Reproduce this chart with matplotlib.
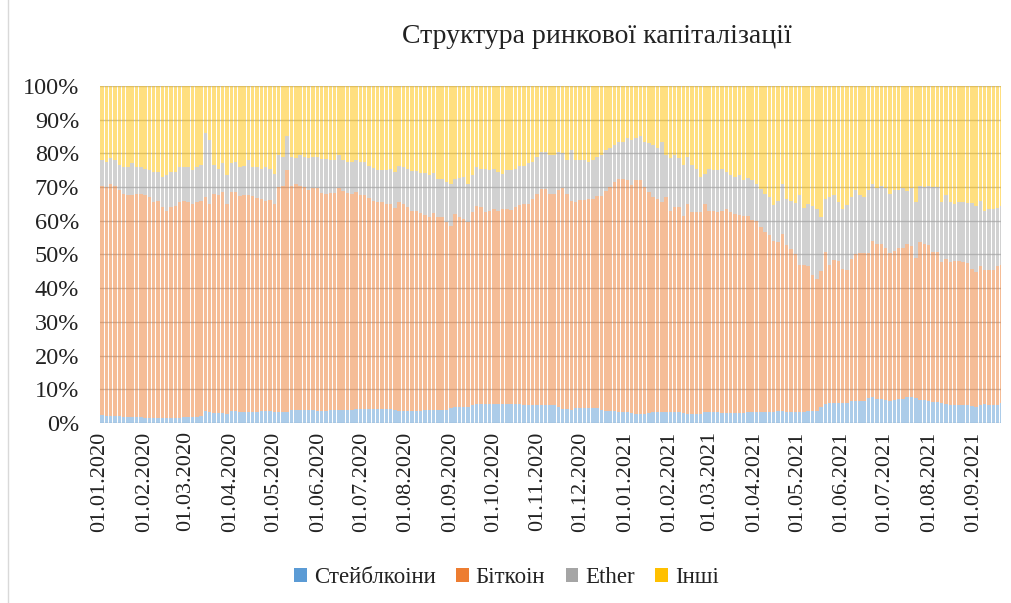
import numpy as np
import pandas as pd
import matplotlib
matplotlib.use("Agg")
import matplotlib.pyplot as plt
from matplotlib.patches import Patch
from matplotlib.lines import Line2D

plt.rcParams['font.family'] = ['Liberation Serif', 'DejaVu Serif']

# кожен стовпчик - 3 дні, починаючи з 01.01.2020 (частки у %)
dates = pd.date_range("2020-01-01", periods=210, freq="3D")

stable = [
    2.4, 2.2, 2.0, 2.0, 2.0, 1.7, 1.7, 1.7, 1.7, 1.7,
    1.5, 1.5, 1.5, 1.4, 1.4, 1.4, 1.4, 1.4, 1.4, 1.7,
    1.7, 1.7, 1.7, 2.2, 3.5, 3.4, 3.0, 2.9, 2.9, 2.8,
    3.5, 3.5, 3.2, 3.2, 3.2, 3.4, 3.4, 3.7, 3.7, 3.7,
    3.2, 3.2, 3.2, 3.2, 3.9, 3.9, 3.9, 3.9, 4.0, 4.0,
    3.7, 3.7, 3.7, 3.8, 3.9, 3.9, 3.9, 3.9, 3.9, 4.1,
    4.1, 4.1, 4.1, 4.2, 4.2, 4.2, 4.2, 4.2, 4.0, 3.7,
    3.7, 3.7, 3.7, 3.7, 3.7, 3.9, 3.9, 3.9, 3.9, 3.9,
    3.9, 4.5, 4.7, 4.7, 4.7, 4.7, 5.2, 5.5, 5.6, 5.6,
    5.6, 5.6, 5.6, 5.6, 5.6, 5.6, 5.6, 5.6, 5.2, 5.2,
    5.2, 5.2, 5.2, 5.2, 5.2, 5.2, 4.8, 4.2, 4.1, 3.9,
    4.4, 4.4, 4.4, 4.4, 4.4, 4.4, 3.8, 3.7, 3.7, 3.7,
    3.2, 3.2, 3.2, 3.0, 2.8, 2.7, 2.7, 3.0, 3.2, 3.2,
    3.2, 3.2, 3.2, 3.2, 3.2, 3.0, 2.7, 2.7, 2.7, 2.8,
    3.2, 3.2, 3.2, 3.2, 3.0, 2.9, 2.9, 2.9, 2.9, 2.9,
    3.2, 3.2, 3.2, 3.2, 3.2, 3.2, 3.3, 3.7, 3.7, 3.4,
    3.4, 3.4, 3.4, 3.2, 3.5, 3.7, 3.7, 4.8, 5.5, 5.8,
    6.0, 6.0, 5.8, 5.8, 6.4, 6.4, 6.4, 6.6, 7.5, 7.8,
    7.1, 7.0, 6.8, 6.6, 6.9, 7.1, 7.1, 7.8, 7.8, 7.3,
    6.8, 6.8, 6.5, 6.1, 6.1, 5.8, 5.5, 5.3, 5.2, 5.2,
    5.2, 5.2, 5.0, 4.7, 5.2, 5.5, 5.2, 5.2, 5.4, 5.8,
]

bitcoin = [
    67.9, 67.8, 68.8, 68.3, 67.0, 66.3, 65.8, 65.8, 66.3, 66.3,
    66.0, 65.5, 64.0, 64.6, 62.6, 61.6, 62.8, 63.1, 64.1, 64.3,
    63.8, 63.3, 63.8, 63.8, 63.5, 61.6, 64.8, 64.6, 65.7, 62.2,
    65.1, 65.0, 64.1, 64.4, 64.4, 63.9, 63.4, 62.9, 62.3, 62.5,
    61.8, 66.8, 67.1, 71.8, 66.4, 67.1, 66.4, 66.1, 65.2, 65.6,
    65.9, 64.5, 64.3, 64.5, 64.3, 65.9, 64.9, 64.3, 64.1, 64.4,
    63.5, 63.4, 62.6, 61.8, 61.3, 61.3, 60.8, 60.8, 59.8, 61.8,
    61.3, 60.3, 59.3, 59.3, 58.5, 57.7, 57.3, 58.3, 57.1, 57.1,
    55.8, 54.0, 57.3, 56.3, 55.8, 55.0, 57.4, 59.0, 58.4, 57.0,
    57.4, 57.9, 57.4, 57.9, 58.0, 57.7, 58.4, 59.0, 59.8, 59.8,
    61.3, 62.8, 64.3, 64.1, 62.8, 62.8, 64.2, 65.4, 63.9, 62.1,
    61.1, 61.9, 61.9, 62.2, 62.2, 62.9, 63.5, 65.1, 66.3, 67.8,
    69.3, 69.3, 68.8, 67.5, 69.2, 69.3, 67.3, 65.6, 63.8, 63.3,
    62.3, 63.8, 59.8, 60.8, 60.8, 58.5, 62.3, 59.9, 59.9, 59.7,
    61.8, 59.8, 59.6, 59.4, 60.0, 60.7, 59.7, 59.1, 58.7, 58.5,
    58.1, 57.1, 56.8, 54.8, 53.4, 52.5, 50.7, 50.1, 52.3, 49.3,
    48.1, 46.6, 43.4, 43.6, 43.0, 40.1, 39.1, 40.2, 45.2, 41.2,
    42.3, 42.0, 40.0, 39.7, 42.4, 43.6, 43.9, 43.7, 42.8, 46.2,
    46.1, 46.2, 45.0, 43.9, 44.0, 44.7, 44.8, 45.2, 44.6, 41.7,
    46.8, 46.4, 46.2, 44.6, 44.6, 42.0, 43.3, 42.5, 42.8, 43.0,
    42.6, 42.3, 40.8, 40.1, 41.3, 39.8, 40.3, 40.2, 41.1, 41.0,
]

ether = [
    7.7, 7.5, 7.7, 7.7, 7.5, 8.0, 8.5, 9.5, 8.0, 8.0,
    8.0, 8.0, 9.0, 8.5, 9.0, 10.5, 10.3, 10.0, 10.5, 10.0,
    10.5, 10.0, 10.5, 10.5, 19.0, 19.0, 8.7, 8.0, 8.4, 8.5,
    8.4, 9.0, 8.7, 8.6, 10.4, 8.7, 9.2, 8.9, 10.0, 9.3,
    9.0, 9.5, 8.7, 10.0, 8.7, 7.5, 9.2, 9.0, 9.3, 9.4,
    9.4, 10.1, 10.3, 9.7, 9.8, 9.7, 9.2, 9.3, 9.5, 9.5,
    9.9, 10.0, 9.5, 9.8, 9.7, 9.7, 10.2, 10.3, 10.7, 10.7,
    11.0, 11.3, 11.8, 11.8, 12.0, 12.6, 12.3, 12.1, 11.5, 11.5,
    11.8, 12.5, 10.5, 11.8, 12.5, 11.3, 10.9, 11.5, 11.5, 12.9,
    12.0, 12.0, 11.5, 10.5, 11.4, 11.7, 11.5, 11.6, 11.2, 12.0,
    11.0, 11.0, 11.0, 11.2, 11.5, 11.5, 11.5, 10.4, 10.0, 15.0,
    12.5, 11.7, 11.7, 10.9, 11.4, 11.7, 12.2, 12.2, 11.5, 11.0,
    11.0, 11.0, 12.5, 13.5, 12.5, 13.0, 13.5, 14.4, 15.5, 15.0,
    18.0, 12.5, 15.5, 15.5, 14.5, 15.0, 14.0, 13.9, 12.9, 10.5,
    9.0, 12.5, 12.2, 12.4, 12.5, 10.9, 10.9, 11.0, 11.9, 10.6,
    11.5, 11.9, 11.0, 11.5, 11.4, 11.3, 10.8, 12.2, 15.0, 13.8,
    14.5, 15.2, 20.8, 16.9, 18.5, 20.7, 20.8, 16.0, 15.8, 20.0,
    19.3, 17.5, 17.8, 19.1, 18.2, 19.0, 17.2, 16.7, 18.7, 17.0,
    16.4, 17.0, 17.8, 17.5, 18.1, 17.2, 17.7, 15.8, 17.2, 16.6,
    16.7, 16.8, 17.6, 19.3, 19.3, 17.8, 18.8, 17.8, 17.0, 17.4,
    17.8, 17.8, 19.4, 19.5, 19.5, 17.5, 18.0, 18.1, 17.3, 17.6,
]

others = [
    22, 22.5, 21.5, 22, 23.5, 24, 24, 23, 24, 24,
    24.5, 25, 25.5, 25.5, 27, 26.5, 25.5, 25.5, 24, 24,
    24, 25, 24, 23.5, 14, 16, 23.5, 24.5, 23, 26.5,
    23, 22.5, 24, 23.8, 22, 24, 24, 24.5, 24, 24.5,
    26, 20.5, 21, 15, 21, 21.5, 20.5, 21, 21.5, 21,
    21, 21.7, 21.7, 22, 22, 20.5, 22, 22.5, 22.5, 22,
    22.5, 22.5, 23.8, 24.2, 24.8, 24.8, 24.8, 24.7, 25.5, 23.8,
    24, 24.7, 25.2, 25.2, 25.8, 25.8, 26.5, 25.7, 27.5, 27.5,
    28.5, 29, 27.5, 27.2, 27, 29, 26.5, 24, 24.5, 24.5,
    25, 24.5, 25.5, 26, 25, 25, 24.5, 23.8, 23.8, 23,
    22.5, 21, 19.5, 19.5, 20.5, 20.5, 19.5, 20, 22, 19,
    22, 22, 22, 22.5, 22, 21, 20.5, 19, 18.5, 17.5,
    16.5, 16.5, 15.5, 16, 15.5, 15, 16.5, 17, 17.5, 18.5,
    16.5, 20.5, 21.5, 20.5, 21.5, 23.5, 21, 23.5, 24.5, 27,
    26, 24.5, 25, 25, 24.5, 25.5, 26.5, 27, 26.5, 28,
    27.2, 27.8, 29, 30.5, 32, 33, 35.2, 34, 29, 33.5,
    34, 34.8, 32.4, 36.3, 35, 35.5, 36.4, 39, 33.5, 33,
    32.4, 34.5, 36.4, 35.4, 33, 31, 32.5, 33, 31, 29,
    30.4, 29.8, 30.4, 32, 31, 31, 30.4, 31.2, 30.4, 34.4,
    29.7, 30, 29.7, 30, 30, 34.4, 32.4, 34.4, 35, 34.4,
    34.4, 34.7, 34.8, 35.7, 34, 37.2, 36.5, 36.5, 36.2, 35.6,
]

names = ["Стейблкоіни", "Біткоін", "Ether", "Інші"]
colors = ["#5B9BD5", "#ED7D31", "#A5A5A5", "#FFC000"]
series = [stable, bitcoin, ether, others]

fig = plt.figure(figsize=(10.11, 6.03), dpi=100)
ax = fig.add_axes([0.0989, 0.2985, 0.8915, 0.559])

bottom = np.zeros(len(dates))
for vals, col in zip(series, colors):
    vals = np.array(vals, dtype=float)
    ax.bar(dates + pd.Timedelta(hours=6), vals, bottom=bottom, width=2.4,
           align='edge', color=col, alpha=0.5, linewidth=0)
    bottom += vals

ax.set_ylim(0, 100)
ax.set_xlim(pd.Timestamp("2020-01-01"), pd.Timestamp("2021-09-20"))
ax.set_yticks(np.arange(0, 101, 10))
ax.set_yticklabels([f"{v}%" for v in range(0, 101, 10)])
months = pd.date_range("2020-01-01", "2021-09-01", freq="MS")
ax.set_xticks(months)
ax.set_xticklabels([m.strftime("%d.%m.%Y") for m in months], rotation=90)

ax.grid(axis='y', color='#BFBFBF', linewidth=1)
ax.set_axisbelow(True)
for s in ax.spines.values():
    s.set_visible(False)
ax.tick_params(axis='both', length=0, colors='#222222')
ax.tick_params(axis='y', pad=15, labelsize=17.5)
ax.tick_params(axis='x', pad=6, labelsize=16)

fig.text(0.59, 0.94, "Структура ринкової капіталізації", ha='center',
         va='center', fontsize=20, color='#222222')

handles = [Patch(facecolor=c, edgecolor='none') for c in colors]
fig.legend(handles, names, loc='center', bbox_to_anchor=(0.501, 0.042), ncol=4,
           frameon=False, fontsize=16.5, handlelength=0.55, handleheight=0.55,
           handletextpad=0.3, columnspacing=0.9, labelcolor='#222222')

# рамка діаграми зліва
fig.add_artist(Line2D([0.008, 0.008], [0.0, 1.0], color='#D9D9D9', lw=1,
                      transform=fig.transFigure))

fig.savefig("out.png", dpi=100)
